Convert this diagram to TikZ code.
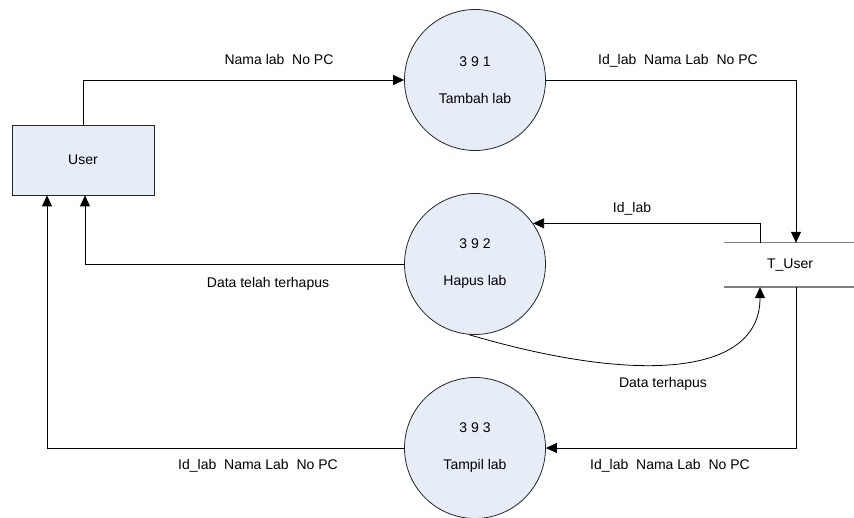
\documentclass[tikz,border=0pt]{standalone}
\usepackage{fontspec}
\setmainfont{Liberation Sans}
\usetikzlibrary{arrows.meta}
\begin{document}
\begin{tikzpicture}[x=1pt,y=-1pt,
  every node/.style={font=\fontsize{14}{16}\selectfont},
  flow/.style={draw=black,line width=0.8pt,-{Triangle[length=11pt,width=10pt]}},
  proc/.style={circle,draw=black!85,line width=0.8pt,fill=col,minimum size=141pt,inner sep=0pt,align=center},
  ent/.style={rectangle,draw=black!85,line width=0.8pt,fill=col,minimum width=142pt,minimum height=70pt},
  storeline/.style={draw=black!50,line width=1.4pt}]
\definecolor{col}{HTML}{E6EDF7}
\useasboundingbox (0,0) rectangle (854,518);
% entity, processes and data store
\node[ent] (user) at (83,160) {User};
\node[proc] (tambah) at (475,80) {3 9 1\\[21pt]Tambah lab};
\node[proc] (hapus) at (475,264) {3 9 2\\[21pt]Hapus lab};
\node[proc] (tampil) at (475,448) {3 9 3\\[21pt]Tampil lab};
\node[minimum width=132pt,minimum height=44pt] (store) at (790,265) {T\_User};
\draw[storeline] (store.north west) -- (store.north east) (store.south west) -- (store.south east);
% flows
\draw[flow] (user.north) |- (tambah.west);
\draw[flow] (tambah.east) -| ([xshift=6pt]store.north);
\draw[flow] ([xshift=-30pt]store.north) |- (hapus.35);
\draw[flow] (hapus.west) -| ([xshift=2pt]user.south);
\draw[flow] (hapus.265) .. controls (640,385) and (760,375) .. ([xshift=-30pt]store.south);
\draw[flow] ([xshift=6pt]store.south) |- (tampil.east);
\draw[flow] (tampil.west) -| ([xshift=-36pt]user.south);
% labels
\node (l1) at (279,60) {Nama lab~~No PC};
\node (l2) at (678,61) {Id\_lab~~Nama Lab~~No PC};
\node (l3) at (632,209) {Id\_lab};
\node (l4) at (268,284) {Data telah terhapus};
\node (l5) at (663,384) {Data terhapus};
\node (l6) at (670,466) {Id\_lab~~Nama Lab~~No PC};
\node (l7) at (258,466) {Id\_lab~~Nama Lab~~No PC};
\end{tikzpicture}
\end{document}
